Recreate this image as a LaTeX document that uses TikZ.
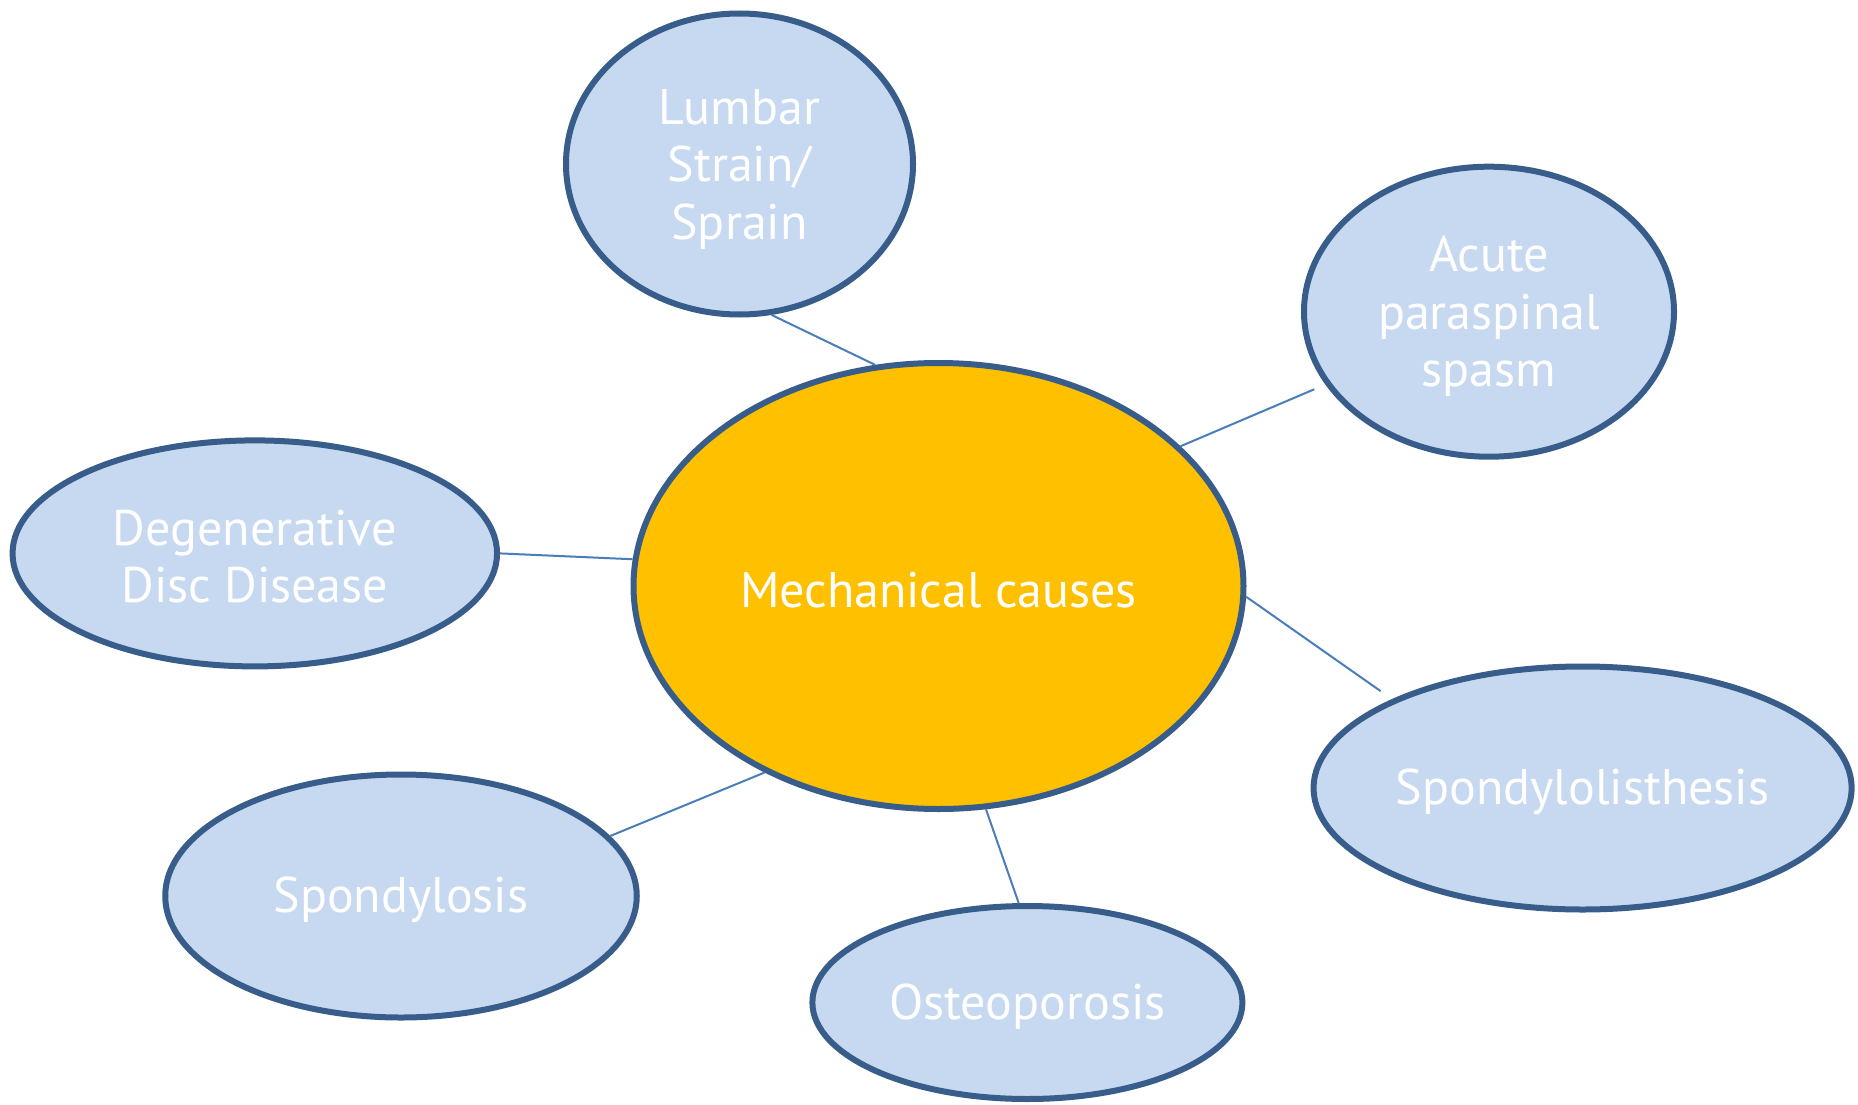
\documentclass[tikz,border=0pt]{standalone}
\usepackage{fontspec}
\setmainfont{PT Sans}
\usetikzlibrary{shapes.geometric}
\definecolor{leaffill}{HTML}{C6D9F1}
\definecolor{rimblue}{HTML}{385D8A}
\definecolor{connblue}{HTML}{4A7EBB}
\definecolor{hubgold}{HTML}{FFC000}
\begin{document}
\begin{tikzpicture}[x=1pt,y=-1pt,
  bubble/.style={ellipse, draw=rimblue, line width=6pt, fill=leaffill, inner sep=0pt},
  bubtext/.style={text=white, align=center, inner sep=0pt, font=\fontsize{50}{57.5}\selectfont},
  link/.style={draw=connblue, line width=2pt}]
\useasboundingbox[fill=white] (0,0) rectangle (1858,1105);

\node[bubble, fill=hubgold, minimum width=610pt, minimum height=446pt] (hub) at (938.5,586) {};
\node[bubble, minimum width=347pt, minimum height=301pt] (lumbar) at (739.5,164) {};
\node[bubble, minimum width=370pt, minimum height=290pt] (acute) at (1489,311.7) {};
\node[bubble, minimum width=484.5pt, minimum height=226pt] (degen) at (254.8,553.4) {};
\node[bubble, minimum width=538pt, minimum height=243pt] (listh) at (1582.6,788) {};
\node[bubble, minimum width=471.5pt, minimum height=243pt] (sposis) at (401,896) {};
\node[bubble, minimum width=430pt, minimum height=193pt] (osteo) at (1027.4,1002.5) {};

\node[bubtext] (hubtxt) at ([yshift=-4pt]hub.center) {Mechanical causes};
\node[bubtext] (lumbartxt) at ([yshift=-5pt]lumbar.center) {Lumbar\\Strain/\\Sprain};
\node[bubtext] (acutetxt) at ([yshift=-5pt]acute.center) {Acute\\paraspinal\\spasm};
\node[bubtext] (degentxt) at ([yshift=-3pt]degen.center) {Degenerative\\Disc Disease};
\node[bubtext] (listhtxt) at ([yshift=-4pt]listh.center) {Spondylolisthesis};
\node[bubtext] (sposistxt) at ([yshift=-4pt]sposis.center) {Spondylosis};
\node[bubtext] (osteotxt) at ([yshift=-4pt]osteo.center) {Osteoporosis};

\draw[link] (lumbar.-78.7) -- (hub.106.7);
\draw[link, shorten >=12pt] (hub.30.5) -- (acute.-156);
\draw[link] (degen.-0.6) -- (hub.175.9);
\draw[link, shorten >=14pt] (hub.-2.3) -- (listh.155.3);
\draw[link] (sposis.16.6) -- (hub.-133.9);
\draw[link] (hub.-78.7) -- (osteo.95.7);
\end{tikzpicture}
\end{document}
